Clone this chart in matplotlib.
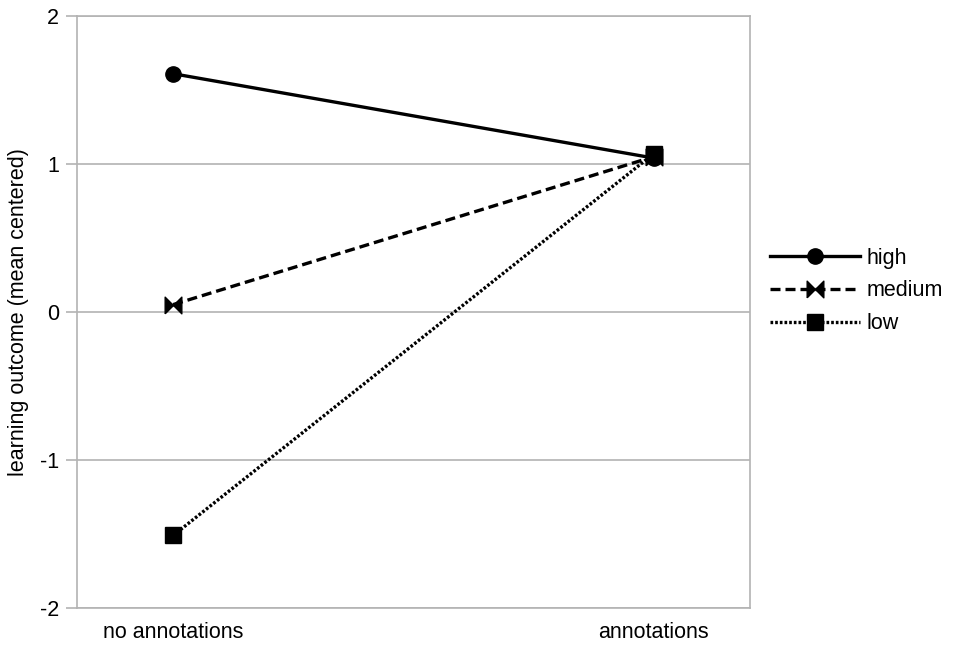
"""Interaction plot: learning outcome by annotation condition and prior level."""

import matplotlib

matplotlib.use("Agg")
import matplotlib.pyplot as plt

plt.rcParams["font.family"] = ["Liberation Sans", "DejaVu Sans"]

conditions = ["no annotations", "annotations"]
high = [1.61, 1.04]
medium = [0.05, 1.05]
low = [-1.51, 1.07]
y_ticks = [-2, -1, 0, 1, 2]

GRID = "#b3b3b3"
FS = 15.5
# two triangles pointing at each other
bowtie = [(-1, -1), (-1, 1), (0, 0), (1, 1), (1, -1), (0, 0), (-1, -1)]

fig = plt.figure(figsize=(9.57, 6.47), dpi=100)
ax = fig.add_axes([77 / 957, 1 - 608 / 647, (750 - 77) / 957, (608 - 16) / 647])

x = range(len(conditions))
ax.plot(x, high, color="black", lw=2.4, ls="-", marker="o", ms=11, label="high", zorder=3)
ax.plot(x, medium, color="black", lw=2.4, ls=(0, (3, 1.5)), marker=bowtie, ms=12,
        label="medium", zorder=3)
ax.plot(x, low, color="black", lw=2.4, ls=(0, (0.8, 0.6)), marker="s", ms=11,
        label="low", zorder=3)

ax.set_xlim(-0.2, 1.2)
ax.set_ylim(-2, 2)
ax.set_yticks(y_ticks)
ax.set_yticklabels([str(t) for t in y_ticks])
ax.set_xticks(list(x))
ax.set_xticklabels(conditions)
ax.grid(axis="y", color=GRID, lw=1.2)
ax.set_axisbelow(True)
for s in ax.spines.values():
    s.set_color(GRID)
    s.set_linewidth(1.2)
ax.tick_params(axis="y", length=8, width=1.2, color=GRID, labelsize=FS, pad=5)
ax.tick_params(axis="x", length=0, labelsize=FS, pad=10)
ax.set_ylabel("learning outcome (mean centered)", fontsize=FS, labelpad=8)

fig.legend(*ax.get_legend_handles_labels(), loc="center left",
           bbox_to_anchor=(770 / 957, 1 - 291 / 647), frameon=False, fontsize=FS,
           handlelength=4.2, handletextpad=0.3, labelspacing=0.55,
           borderpad=0, borderaxespad=0)

fig.savefig("out.png", dpi=100)
